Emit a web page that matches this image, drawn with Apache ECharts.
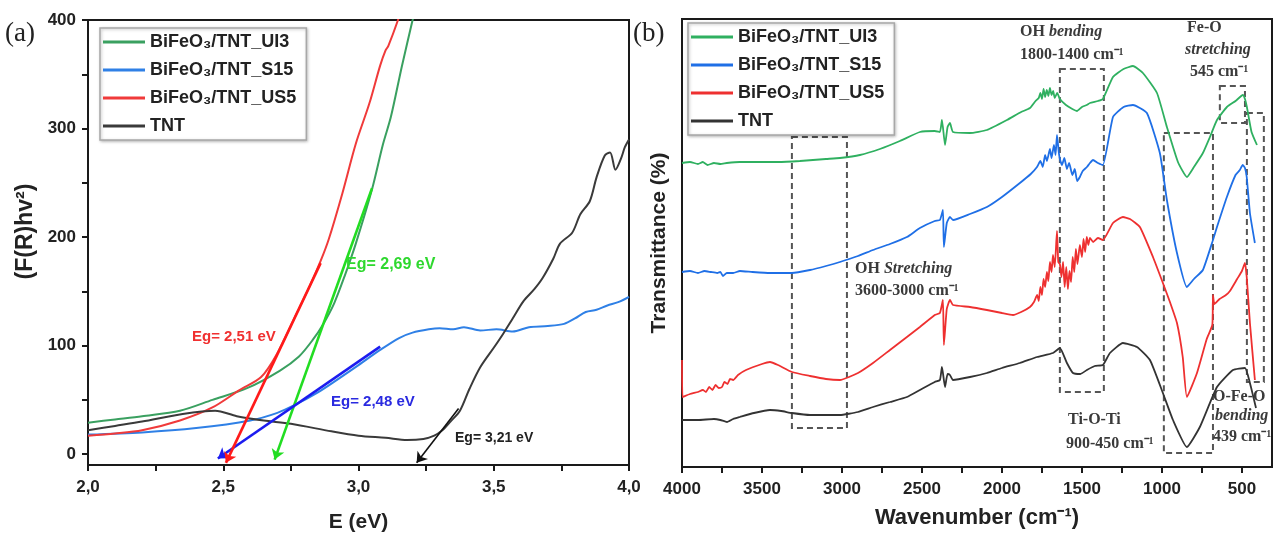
<!DOCTYPE html>
<html><head><meta charset="utf-8">
<script src="https://cdn.jsdelivr.net/npm/echarts@6/dist/echarts.min.js"></script>
<style>html,body{margin:0;padding:0;background:#fff}#c{width:1277px;height:541px}</style>
</head><body><div id="c"></div>
<script>
// ---------- names ----------
const names = ['BiFeO₃/TNT_UI3', 'BiFeO₃/TNT_S15', 'BiFeO₃/TNT_US5', 'TNT'];

// ---------- panel (a): Tauc plots, [E (eV), (F(R)hv)^2] ----------
const tauc_UI3 = [[2.0,29],[2.1,32],[2.2,35],[2.34,40],[2.46,50],[2.59,61],[2.71,77],[2.78,90],[2.83,105],[2.87,120],[2.91,139],[2.95,165],[2.99,194],[3.05,244],[3.09,285],[3.12,311],[3.16,357],[3.20,400],[3.21,412]];
const tauc_S15 = [[2.0,18],[2.2,20],[2.4,24],[2.6,31],[2.7,38],[2.77,46],[2.85,57],[2.9,65],[3.0,82],[3.08,96],[3.15,107],[3.2,112],[3.26,115],[3.3,116],[3.35,115],[3.39,117],[3.45,114],[3.51,115],[3.57,113],[3.63,117],[3.7,118],[3.76,120],[3.8,125],[3.84,131],[3.88,133],[3.92,137],[3.96,140],[4.0,145]];
const tauc_US5 = [[2.0,17],[2.1,19],[2.2,22],[2.34,31],[2.46,43],[2.56,59],[2.64,71],[2.70,93],[2.77,129],[2.82,155],[2.86,178],[2.89,198],[2.94,240],[2.99,286],[3.04,323],[3.08,358],[3.10,372],[3.11,376],[3.146,400],[3.16,412]];
const tauc_TNT = [[2.0,22],[2.1,26],[2.2,30],[2.35,37],[2.47,40],[2.55,35],[2.65,31],[2.75,28],[2.9,21],[3.0,17],[3.1,15],[3.18,13],[3.24,14],[3.28,17],[3.31,22],[3.34,30],[3.375,40],[3.41,60],[3.45,80],[3.5,98],[3.535,111],[3.57,125],[3.61,141],[3.65,152],[3.68,162],[3.72,180],[3.745,194],[3.79,204],[3.82,221],[3.855,233],[3.88,255],[3.91,275],[3.93,278],[3.95,262],[3.97,272],[3.985,283],[4.0,290]];
// tangent lines (start, arrow end)
const tan_UI3 = [[3.05,245],[2.69,-5]];
const tan_S15 = [[3.08,99],[2.48,-4]];
const tan_US5 = [[2.86,176],[2.51,-8]];
const tan_TNT = [[3.37,42],[3.215,-8]];
const egLabels = ['Eg= 2,69 eV','Eg= 2,48 eV','Eg= 2,51 eV','Eg= 3,21 eV'];

// ---------- panel (b): FTIR, [wavenumber, transmittance (a.u.)] ----------
const ftir_UI3 = [[4000,304],[3950,305],[3900,303],[3870,305],[3840,302],[3800,304],[3760,303],[3720,304],[3640,305],[3500,305],[3400,305],[3263,306],[3100,308],[3013,309],[2888,312],[2763,318],[2638,326],[2513,335],[2420,336],[2388,335],[2375,347],[2356,322],[2340,340],[2325,344],[2306,335],[2200,334],[2094,337],[1969,347],[1880,355],[1825,359],[1790,366],[1770,369],[1760,374],[1750,368],[1740,378],[1730,370],[1720,377],[1710,371],[1700,379],[1690,372],[1680,376],[1670,369],[1655,374],[1638,368],[1600,362],[1560,358],[1531,356],[1500,360],[1470,362],[1450,364],[1400,366],[1369,368],[1306,390],[1240,398],[1181,401],[1119,394],[1031,374],[969,340],[900,305],[844,290],[800,300],[744,314],[700,330],[656,347],[594,360],[540,366],[494,372],[481,368],[469,360],[440,335],[406,322]];
const ftir_S15 = [[4000,195],[3950,196],[3900,194],[3860,196],[3820,195],[3780,194],[3760,195],[3744,191],[3720,194],[3680,194],[3638,196],[3560,195],[3450,194],[3313,194],[3200,197],[3100,201],[3013,205],[2900,211],[2806,217],[2700,223],[2594,230],[2513,239],[2420,246],[2388,247],[2369,257],[2363,220],[2345,244],[2325,250],[2306,247],[2200,253],[2094,260],[2000,270],[1888,284],[1820,293],[1781,300],[1760,306],[1745,300],[1730,312],[1719,306],[1700,318],[1690,309],[1675,322],[1665,312],[1656,332],[1645,315],[1638,308],[1625,302],[1610,309],[1594,298],[1580,304],[1560,292],[1545,298],[1530,286],[1513,290],[1495,296],[1469,300],[1450,304],[1431,307],[1400,304],[1369,302],[1306,350],[1240,360],[1181,362],[1094,354],[1013,314],[969,267],[906,214],[844,180],[800,188],[744,197],[681,227],[656,240],[594,270],[540,292],[513,297],[495,302],[481,299],[470,290],[450,254],[419,224]];
const ftir_US5 = [[4000,107],[3997,70],[3950,73],[3900,75],[3870,77],[3850,75],[3830,80],[3810,77],[3790,82],[3770,79],[3750,80],[3735,85],[3715,83],[3700,88],[3680,87],[3650,92],[3600,97],[3500,103],[3450,105],[3400,102],[3313,95],[3200,91],[3100,88],[3013,87],[2900,94],[2806,104],[2700,117],[2594,130],[2513,140],[2420,152],[2388,154],[2369,167],[2363,122],[2345,158],[2325,167],[2306,162],[2200,160],[2094,157],[2000,154],[1931,152],[1880,155],[1825,160],[1800,165],[1780,172],[1770,166],[1760,180],[1750,172],[1740,188],[1730,180],[1719,195],[1710,186],[1700,205],[1690,195],[1681,212],[1670,200],[1656,236],[1648,205],[1638,203],[1628,190],[1618,205],[1608,180],[1598,200],[1588,178],[1578,196],[1568,185],[1558,210],[1548,195],[1538,218],[1528,203],[1513,222],[1500,210],[1490,228],[1480,215],[1470,230],[1460,222],[1450,229],[1430,225],[1400,229],[1369,227],[1306,244],[1244,250],[1200,248],[1138,240],[1056,210],[994,184],[950,165],[906,144],[870,110],[844,70],[781,94],[720,128],[685,142],[681,172],[672,163],[640,168],[600,172],[575,176],[530,188],[500,196],[481,204],[470,190],[450,144],[419,87]];
const ftir_TNT = [[4000,47],[3900,47],[3800,48],[3760,47],[3719,45],[3680,48],[3638,50],[3550,54],[3450,57],[3380,56],[3313,54],[3200,52],[3013,52],[2900,55],[2806,60],[2700,65],[2594,70],[2513,77],[2420,85],[2388,87],[2375,100],[2356,80],[2340,93],[2325,92],[2306,87],[2200,90],[2094,94],[2000,99],[1888,104],[1780,110],[1681,114],[1638,119],[1594,104],[1556,94],[1510,93],[1469,97],[1420,101],[1369,102],[1325,114],[1244,124],[1156,120],[1075,107],[994,74],[931,47],[844,20],[763,40],[656,80],[556,97],[481,99],[450,84],[412,59]];
// dashed band boxes [wn1, top, wn2, bottom]
const bandBoxes = [[3313,330,2969,39],[1638,398,1363,75],[988,334,681,14],[638,381,481,344],[469,354,363,85]];

// tick values
const eTicks = [2.0,2.25,2.5,2.75,3.0,3.25,3.5,3.75,4.0];
const eLabels = [2.0,2.5,3.0,3.5,4.0];
const fTicks = [0,50,100,150,200,250,300,350,400];
const fLabels = [0,100,200,300,400];
const wTicks = [4000,3750,3500,3250,3000,2750,2500,2250,2000,1750,1500,1250,1000,750,500];
const wLabels = [4000,3500,3000,2500,2000,1500,1000,500];

// ---------- styling ----------
const SANS = '"Liberation Sans", Arial, sans-serif';
const SERIF = '"Liberation Serif", "Times New Roman", serif';
const colA = ['#3aa060', '#2f80e6', '#f03a3a', '#3a3a3a'];
const tanCol = ['#22dd22', '#1c1cf0', '#ff1a1a', '#111111'];
const colB = ['#2fb060', '#1f6fe6', '#ee3030', '#333333'];

const chart = echarts.init(document.getElementById('c'), null, {renderer: 'canvas'});

const axisLineStyle = {onZero: false, lineStyle: {color: '#1a1a1a', width: 2}};
const tickLabel = {fontFamily: SANS, fontWeight: 'bold', fontSize: 17, color: '#222'};

function tangent(pts, color, w) {
  return {
    silent: true, animation: false, symbol: ['none', 'arrow'], symbolSize: 10,
    label: {show: false}, lineStyle: {color: color, width: w, type: 'solid'},
    itemStyle: {color: color},
    emphasis: {disabled: true},
    data: [[{coord: pts[0]}, {coord: pts[1]}]]
  };
}

const taucData = [tauc_UI3, tauc_S15, tauc_US5, tauc_TNT];
const tanData = [tan_UI3, tan_S15, tan_US5, tan_TNT];
const ftirData = [ftir_UI3, ftir_S15, ftir_US5, ftir_TNT];

const series = [];
for (let i = 0; i < 4; i++) {
  series.push({
    name: names[i], type: 'line', xAxisIndex: 0, yAxisIndex: 0, data: taucData[i],
    showSymbol: false, symbol: 'none', smooth: 0.3, clip: true,
    lineStyle: {color: colA[i], width: 2}, itemStyle: {color: colA[i]},
    markLine: tangent(tanData[i], tanCol[i], i === 3 ? 1.6 : 2.6),
    z: 2
  });
}
for (let i = 0; i < 4; i++) {
  const s = {
    name: names[i], type: 'line', xAxisIndex: 1, yAxisIndex: 1, data: ftirData[i],
    showSymbol: false, symbol: 'none', smooth: 0.15, clip: true,
    lineStyle: {color: colB[i], width: 1.8}, itemStyle: {color: colB[i]}, z: 2
  };
  if (i === 3) {
    s.markArea = {
      silent: true,
      itemStyle: {color: 'rgba(0,0,0,0)', borderColor: '#555', borderWidth: 2, borderType: [6, 4]},
      data: bandBoxes.map(b => [{coord: [b[0], b[1]]}, {coord: [b[2], b[3]]}])
    };
  }
  series.push(s);
}

function legend(left, top, cols) {
  return {
    left: left, top: top, orient: 'vertical', icon: 'rect', itemWidth: 42, itemHeight: 3, itemGap: 10,
    padding: [5, 10, 5, 3], borderColor: '#a8a8a8', borderWidth: 1.5, backgroundColor: '#fff',
    shadowBlur: 3, shadowColor: 'rgba(0,0,0,0.25)', shadowOffsetX: 1, shadowOffsetY: 1,
    selectedMode: false,
    textStyle: {fontFamily: SANS, fontWeight: 'bold', fontSize: 18, color: '#222'},
    data: names.map((n, i) => ({name: n, itemStyle: {color: cols[i]}}))
  };
}

function txt(x, y, text, font, fill, rich) {
  const st = {text: text, x: x, y: y, fill: fill, font: font, verticalAlign: 'middle', align: 'left'};
  if (rich) st.rich = rich;
  return {type: 'text', z: 100, silent: true, style: st};
}
const serifFont = 'bold 16px ' + SERIF;
const serifItalic = {i: {fontStyle: 'italic', fontWeight: 'bold', fontSize: 16, fontFamily: SERIF, fill: '#3a3a3a'}};
const annCol = '#3a3a3a';

const option = {
  backgroundColor: '#fff',
  animation: false,
  grid: [
    {left: 88, top: 20, width: 541, height: 445, show: true, borderColor: '#1a1a1a', borderWidth: 2, backgroundColor: 'transparent'},
    {left: 682, top: 19, width: 590, height: 448, show: true, borderColor: '#1a1a1a', borderWidth: 2, backgroundColor: 'transparent'}
  ],
  xAxis: [
    {gridIndex: 0, type: 'value', min: 2, max: 4, interval: 0.5,
     axisLine: axisLineStyle, splitLine: {show: false},
     axisTick: {show: true, customValues: eTicks, length: 6, lineStyle: {width: 2, color: '#1a1a1a'}},
     axisLabel: Object.assign({customValues: eLabels, margin: 14, formatter: v => v.toFixed(1).replace('.', ',')}, tickLabel),
     name: 'E (eV)', nameLocation: 'middle', nameGap: 47,
     nameTextStyle: {fontFamily: SANS, fontWeight: 'bold', fontSize: 21, color: '#222'}},
    {gridIndex: 1, type: 'value', min: 312, max: 4000, inverse: true,
     axisLine: axisLineStyle, splitLine: {show: false},
     axisTick: {show: true, customValues: wTicks, length: 6, lineStyle: {width: 2, color: '#1a1a1a'}},
     axisLabel: Object.assign({customValues: wLabels, margin: 14, formatter: v => String(v)}, tickLabel),
     name: 'Wavenumber (cm⁻¹)', nameLocation: 'middle', nameGap: 40,
     nameTextStyle: {fontFamily: SANS, fontWeight: 'bold', fontSize: 22, color: '#222'}}
  ],
  yAxis: [
    {gridIndex: 0, type: 'value', min: -10, max: 400,
     axisLine: axisLineStyle, splitLine: {show: false},
     axisTick: {show: true, customValues: fTicks, length: 6, lineStyle: {width: 2, color: '#1a1a1a'}},
     axisLabel: Object.assign({customValues: fLabels, margin: 12, formatter: v => String(v)}, tickLabel),
     name: '(F(R)hv²)', nameLocation: 'middle', nameGap: 51,
     nameTextStyle: {fontFamily: SANS, fontWeight: 'bold', fontSize: 23, color: '#222', padding: [0, 0, 0, 22]}},
    {gridIndex: 1, type: 'value', min: 0, max: 448,
     axisLine: axisLineStyle, splitLine: {show: false}, axisTick: {show: false}, axisLabel: {show: false},
     name: 'Transmittance (%)', nameLocation: 'middle', nameGap: 12,
     nameTextStyle: {fontFamily: SANS, fontWeight: 'bold', fontSize: 21, color: '#222'}}
  ],
  legend: [legend(100, 28, colA), legend(688, 23, colB)],
  series: series,
  graphic: [
    txt(5, 34, '(a)', '27px ' + SERIF, '#222'),
    txt(633, 34, '(b)', '27px ' + SERIF, '#222'),
    txt(346, 265, egLabels[0], 'bold 16px ' + SANS, '#2ed82e'),
    txt(331, 402, egLabels[1], 'bold 15px ' + SANS, '#2a2ae0'),
    txt(192, 337, egLabels[2], 'bold 15px ' + SANS, '#f03030'),
    txt(455, 438, egLabels[3], 'bold 14px ' + SANS, '#222'),
    txt(1020, 32, 'OH {i|bending}', serifFont, annCol, serifItalic),
    txt(1020, 55, '1800-1400 cm⁻¹', serifFont, annCol),
    txt(1187, 28, 'Fe-O', serifFont, annCol),
    txt(1185, 50, '{i|stretching}', serifFont, annCol, serifItalic),
    txt(1190, 72, '545 cm⁻¹', serifFont, annCol),
    txt(855, 269, 'OH {i|Stretching}', serifFont, annCol, serifItalic),
    txt(855, 291, '3600-3000 cm⁻¹', serifFont, annCol),
    txt(1068, 420, 'Ti-O-Ti', serifFont, annCol),
    txt(1066, 444, '900-450 cm⁻¹', serifFont, annCol),
    txt(1213, 397, 'O-Fe-O', serifFont, annCol),
    txt(1215, 416, '{i|bending}', serifFont, annCol, serifItalic),
    txt(1213, 437, '439 cm⁻¹', serifFont, annCol)
  ]
};
chart.setOption(option);
</script>
</body></html>
